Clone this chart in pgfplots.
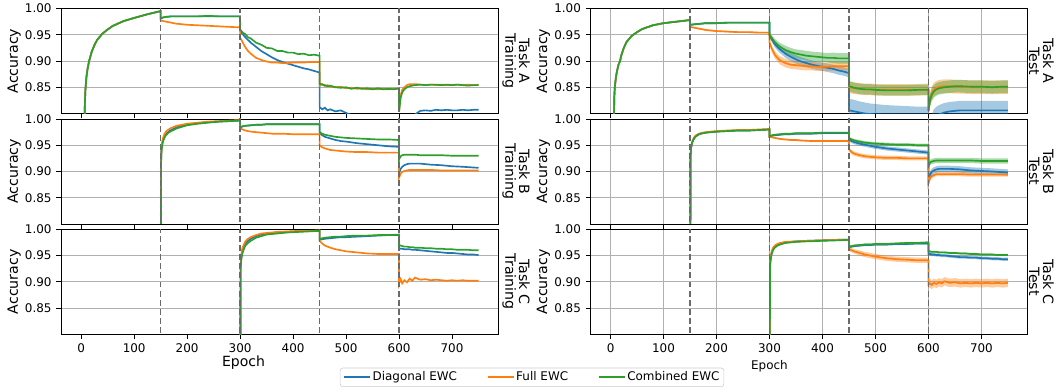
\documentclass[border=0pt]{standalone}
\usepackage{fontspec}
\setmainfont{DejaVu Sans}
\usepackage{pgfplots}
\pgfplotsset{compat=1.18}
\usepackage{pgfplotstable}
\definecolor{cB}{HTML}{1F77B4}
\definecolor{cO}{HTML}{FF7F0E}
\definecolor{cG}{HTML}{2CA02C}
\definecolor{gridc}{HTML}{B0B0B0}
\definecolor{legc}{HTML}{CCCCCC}
\definecolor{vlc}{HTML}{6A6A6A}

% ---------------- Task A ----------------
\pgfplotstableread{
x b o g
5 0.70 0.70 0.70
7 0.82 0.82 0.82
8 0.845 0.845 0.845
10 0.87 0.87 0.87
12 0.885 0.885 0.885
15 0.90 0.90 0.90
20 0.918 0.918 0.918
25 0.93 0.93 0.93
30 0.94 0.94 0.94
40 0.952 0.952 0.952
50 0.96 0.96 0.96
60 0.967 0.967 0.967
80 0.976 0.976 0.976
100 0.982 0.982 0.982
125 0.989 0.989 0.989
150 0.995 0.995 0.995
150.01 0.981 0.977 0.981
155 0.983 0.976 0.983
160 0.984 0.975 0.984
170 0.985 0.973 0.985
180 0.985 0.971 0.985
200 0.985 0.969 0.985
220 0.985 0.968 0.985
240 0.985 0.967 0.986
260 0.985 0.966 0.985
280 0.985 0.965 0.985
300 0.985 0.964 0.985
300.01 0.958 0.945 0.960
305 0.951 0.935 0.954
310 0.945 0.926 0.951
315 0.940 0.919 0.945
320 0.935 0.914 0.943
330 0.927 0.906 0.935
340 0.919 0.902 0.931
350 0.913 0.899 0.925
360 0.907 0.897 0.924
370 0.902 0.897 0.919
380 0.898 0.896 0.919
390 0.895 0.896 0.916
400 0.892 0.897 0.916
410 0.889 0.897 0.913
420 0.886 0.897 0.914
430 0.884 0.898 0.911
440 0.881 0.898 0.912
450 0.878 0.898 0.910
450.01 0.812 0.853 0.857
455 0.808 0.856 0.855
460 0.811 0.852 0.854
465 0.806 0.854 0.852
470 0.808 0.851 0.853
480 0.804 0.850 0.850
490 0.806 0.851 0.849
500 0.801 0.848 0.850
510 0.797 0.849 0.847
520 0.790 0.847 0.849
530 0.790 0.848 0.847
540 0.790 0.846 0.848
550 0.790 0.847 0.846
560 0.790 0.846 0.848
570 0.790 0.847 0.846
580 0.790 0.846 0.847
590 0.790 0.847 0.846
600 0.790 0.847 0.848
600.01 0.700 0.805 0.803
603 0.740 0.835 0.830
606 0.760 0.845 0.840
610 0.770 0.850 0.846
615 0.780 0.854 0.850
620 0.790 0.856 0.852
630 0.798 0.856 0.854
640 0.805 0.855 0.855
650 0.806 0.854 0.854
660 0.805 0.855 0.855
670 0.807 0.854 0.855
680 0.806 0.855 0.854
690 0.807 0.854 0.855
700 0.806 0.854 0.854
710 0.806 0.855 0.855
720 0.807 0.854 0.854
730 0.806 0.855 0.853
740 0.807 0.854 0.854
750 0.807 0.855 0.854
}\tAtr

\pgfplotstableread{
x b be o oe g ge
5 0.70 0.001 0.70 0.001 0.70 0.001
7 0.83 0.001 0.83 0.001 0.83 0.001
8 0.85 0.001 0.85 0.001 0.85 0.001
10 0.868 0.001 0.868 0.001 0.868 0.001
12 0.880 0.001 0.880 0.001 0.880 0.001
15 0.893 0.001 0.893 0.001 0.893 0.001
18 0.900 0.001 0.900 0.001 0.900 0.001
20 0.910 0.001 0.910 0.001 0.910 0.001
25 0.925 0.001 0.925 0.001 0.925 0.001
30 0.936 0.001 0.936 0.001 0.936 0.001
40 0.948 0.001 0.948 0.001 0.948 0.001
50 0.955 0.001 0.955 0.001 0.955 0.001
60 0.961 0.001 0.961 0.001 0.961 0.001
80 0.968 0.001 0.968 0.001 0.968 0.001
100 0.972 0.001 0.972 0.001 0.972 0.001
125 0.975 0.001 0.975 0.001 0.975 0.001
150 0.978 0.001 0.978 0.001 0.978 0.001
150.01 0.969 0.001 0.965 0.0015 0.969 0.001
160 0.970 0.001 0.963 0.0015 0.970 0.001
170 0.971 0.001 0.961 0.0015 0.971 0.001
180 0.972 0.001 0.959 0.0015 0.972 0.001
200 0.972 0.001 0.957 0.0015 0.972 0.001
220 0.973 0.001 0.956 0.0015 0.973 0.001
240 0.973 0.001 0.955 0.0015 0.973 0.001
260 0.973 0.001 0.955 0.0015 0.973 0.001
280 0.973 0.001 0.954 0.0015 0.973 0.001
300 0.973 0.001 0.954 0.0015 0.973 0.001
300.01 0.948 0.004 0.935 0.004 0.950 0.004
305 0.940 0.005 0.922 0.006 0.943 0.005
310 0.932 0.006 0.912 0.007 0.936 0.006
315 0.927 0.007 0.906 0.007 0.931 0.007
320 0.922 0.007 0.901 0.008 0.927 0.007
330 0.914 0.008 0.896 0.008 0.921 0.008
340 0.908 0.008 0.893 0.008 0.917 0.008
350 0.903 0.008 0.892 0.008 0.914 0.008
360 0.899 0.008 0.891 0.008 0.912 0.009
370 0.896 0.008 0.890 0.008 0.910 0.009
380 0.893 0.008 0.890 0.008 0.909 0.009
390 0.891 0.008 0.889 0.008 0.908 0.009
400 0.889 0.008 0.889 0.008 0.907 0.009
410 0.887 0.008 0.889 0.008 0.906 0.009
420 0.885 0.008 0.890 0.008 0.906 0.010
430 0.882 0.008 0.890 0.008 0.905 0.010
440 0.880 0.008 0.890 0.008 0.905 0.010
450 0.877 0.008 0.890 0.008 0.905 0.010
450.01 0.806 0.022 0.850 0.011 0.852 0.010
460 0.804 0.022 0.848 0.011 0.849 0.010
470 0.802 0.021 0.847 0.011 0.847 0.010
480 0.800 0.021 0.846 0.011 0.846 0.010
490 0.799 0.020 0.846 0.011 0.846 0.010
500 0.798 0.020 0.845 0.011 0.845 0.010
520 0.797 0.019 0.845 0.011 0.844 0.010
540 0.796 0.019 0.845 0.011 0.844 0.010
560 0.796 0.018 0.845 0.011 0.844 0.010
580 0.795 0.018 0.845 0.011 0.845 0.010
600 0.795 0.018 0.846 0.011 0.845 0.010
600.01 0.750 0.015 0.805 0.013 0.805 0.012
603 0.770 0.016 0.828 0.013 0.825 0.012
606 0.780 0.017 0.838 0.013 0.835 0.012
610 0.790 0.018 0.845 0.013 0.842 0.012
615 0.795 0.018 0.849 0.013 0.846 0.012
620 0.798 0.018 0.851 0.013 0.848 0.012
630 0.802 0.018 0.852 0.013 0.850 0.012
640 0.804 0.018 0.852 0.013 0.851 0.012
650 0.805 0.018 0.851 0.013 0.852 0.012
660 0.806 0.018 0.851 0.013 0.852 0.012
680 0.806 0.018 0.850 0.013 0.851 0.012
700 0.806 0.018 0.850 0.013 0.851 0.012
720 0.806 0.018 0.850 0.013 0.850 0.012
740 0.806 0.018 0.850 0.013 0.851 0.012
750 0.806 0.018 0.850 0.013 0.851 0.012
}\tAte

% ---------------- Task B ----------------
\pgfplotstableread{
x b o g
150 0.50 0.50 0.50
151 0.930 0.935 0.928
152 0.945 0.950 0.943
154 0.958 0.962 0.956
157 0.966 0.971 0.964
160 0.971 0.976 0.969
165 0.976 0.980 0.974
170 0.979 0.983 0.977
180 0.984 0.987 0.982
190 0.987 0.989 0.985
200 0.989 0.991 0.988
220 0.992 0.993 0.991
240 0.994 0.995 0.993
260 0.995 0.996 0.995
280 0.996 0.997 0.996
300 0.997 0.998 0.997
300.01 0.984 0.982 0.984
305 0.986 0.980 0.986
310 0.987 0.978 0.987
320 0.988 0.976 0.988
330 0.989 0.975 0.989
340 0.989 0.974 0.989
350 0.990 0.973 0.990
360 0.990 0.972 0.990
380 0.990 0.972 0.990
400 0.990 0.971 0.990
420 0.990 0.971 0.990
440 0.990 0.971 0.990
450 0.990 0.971 0.990
450.01 0.973 0.950 0.975
455 0.969 0.946 0.972
460 0.966 0.944 0.970
470 0.963 0.941 0.968
480 0.960 0.940 0.966
490 0.958 0.939 0.965
500 0.957 0.938 0.964
520 0.954 0.937 0.963
540 0.952 0.937 0.962
560 0.950 0.936 0.961
580 0.948 0.936 0.961
600 0.947 0.936 0.960
600.01 0.897 0.888 0.923
603 0.905 0.896 0.929
606 0.909 0.899 0.931
610 0.912 0.901 0.932
615 0.914 0.902 0.932
620 0.915 0.903 0.932
630 0.915 0.903 0.932
640 0.915 0.903 0.931
660 0.913 0.903 0.931
680 0.912 0.902 0.931
700 0.910 0.902 0.930
720 0.909 0.902 0.930
750 0.907 0.902 0.930
}\tBtr

\pgfplotstableread{
x b be o oe g ge
150 0.50 0.001 0.50 0.001 0.50 0.001
151 0.930 0.002 0.932 0.002 0.930 0.002
152 0.945 0.002 0.947 0.002 0.945 0.002
154 0.955 0.002 0.957 0.002 0.955 0.002
157 0.962 0.002 0.964 0.002 0.962 0.002
160 0.966 0.002 0.968 0.002 0.966 0.002
165 0.970 0.002 0.971 0.002 0.970 0.002
170 0.972 0.001 0.973 0.001 0.972 0.001
180 0.974 0.001 0.975 0.001 0.974 0.001
190 0.975 0.001 0.976 0.001 0.975 0.001
200 0.976 0.001 0.977 0.001 0.976 0.001
220 0.977 0.001 0.978 0.001 0.977 0.001
240 0.978 0.001 0.979 0.001 0.978 0.001
260 0.978 0.001 0.979 0.001 0.978 0.001
280 0.979 0.001 0.980 0.001 0.979 0.001
300 0.980 0.001 0.981 0.001 0.980 0.001
300.01 0.966 0.0015 0.966 0.0015 0.967 0.0015
305 0.968 0.0015 0.965 0.0015 0.969 0.0015
310 0.969 0.0015 0.964 0.0015 0.970 0.0015
320 0.970 0.0015 0.962 0.0015 0.971 0.0015
330 0.971 0.0015 0.961 0.0015 0.972 0.0015
340 0.971 0.0015 0.960 0.0015 0.972 0.0015
350 0.972 0.0015 0.960 0.0015 0.973 0.0015
360 0.972 0.0015 0.959 0.0015 0.973 0.0015
380 0.972 0.0015 0.958 0.0015 0.973 0.0015
400 0.973 0.0015 0.958 0.0015 0.974 0.0015
420 0.973 0.0015 0.958 0.0015 0.974 0.0015
440 0.973 0.0015 0.958 0.0015 0.974 0.0015
450 0.973 0.0015 0.958 0.0015 0.974 0.0015
450.01 0.961 0.004 0.942 0.004 0.963 0.003
455 0.958 0.004 0.937 0.004 0.961 0.003
460 0.956 0.004 0.934 0.004 0.959 0.003
470 0.953 0.004 0.931 0.004 0.957 0.003
480 0.951 0.004 0.929 0.004 0.955 0.003
490 0.949 0.004 0.928 0.004 0.954 0.003
500 0.947 0.004 0.927 0.004 0.953 0.003
520 0.944 0.004 0.926 0.004 0.952 0.003
540 0.942 0.004 0.926 0.004 0.951 0.003
560 0.940 0.004 0.925 0.004 0.951 0.003
580 0.938 0.004 0.925 0.004 0.950 0.003
600 0.936 0.004 0.925 0.004 0.950 0.003
600.01 0.884 0.006 0.877 0.004 0.910 0.005
603 0.894 0.006 0.887 0.004 0.917 0.005
606 0.899 0.006 0.891 0.004 0.919 0.005
610 0.902 0.006 0.893 0.004 0.920 0.005
615 0.904 0.006 0.895 0.004 0.921 0.005
620 0.905 0.006 0.895 0.004 0.921 0.005
630 0.905 0.006 0.895 0.004 0.921 0.005
640 0.905 0.006 0.895 0.004 0.921 0.005
660 0.904 0.006 0.895 0.004 0.921 0.005
680 0.902 0.006 0.894 0.004 0.921 0.005
700 0.901 0.006 0.894 0.004 0.920 0.005
720 0.900 0.006 0.894 0.004 0.920 0.005
750 0.898 0.006 0.894 0.004 0.920 0.005
}\tBte

% ---------------- Task C ----------------
\pgfplotstableread{
x b o g
300 0.50 0.50 0.50
301 0.930 0.935 0.925
302 0.945 0.950 0.940
304 0.958 0.963 0.953
307 0.967 0.971 0.962
310 0.973 0.977 0.969
315 0.978 0.982 0.974
320 0.982 0.985 0.978
330 0.987 0.989 0.984
340 0.990 0.992 0.987
350 0.992 0.993 0.990
370 0.994 0.995 0.992
390 0.995 0.996 0.994
410 0.996 0.997 0.995
430 0.997 0.997 0.996
450 0.997 0.998 0.997
450.01 0.980 0.978 0.981
455 0.981 0.973 0.983
460 0.982 0.969 0.984
470 0.983 0.965 0.985
480 0.984 0.962 0.986
490 0.985 0.960 0.986
500 0.985 0.958 0.987
520 0.986 0.956 0.988
540 0.987 0.954 0.988
560 0.988 0.953 0.989
580 0.989 0.953 0.989
600 0.989 0.953 0.990
600.01 0.964 0.896 0.970
603 0.963 0.905 0.969
606 0.963 0.897 0.968
610 0.962 0.903 0.967
615 0.962 0.899 0.967
620 0.962 0.906 0.966
625 0.961 0.902 0.966
630 0.961 0.908 0.965
640 0.960 0.904 0.965
650 0.959 0.905 0.964
660 0.958 0.903 0.964
670 0.957 0.904 0.963
680 0.956 0.903 0.963
690 0.955 0.902 0.962
700 0.955 0.903 0.962
710 0.954 0.902 0.961
720 0.953 0.903 0.961
730 0.952 0.902 0.961
740 0.952 0.902 0.960
750 0.951 0.902 0.960
}\tCtr

\pgfplotstableread{
x b be o oe g ge
300 0.50 0.001 0.50 0.001 0.50 0.001
301 0.930 0.002 0.933 0.002 0.928 0.002
302 0.943 0.002 0.946 0.002 0.941 0.002
304 0.955 0.002 0.958 0.002 0.953 0.002
307 0.963 0.002 0.965 0.002 0.961 0.002
310 0.967 0.001 0.969 0.001 0.965 0.001
315 0.971 0.001 0.972 0.001 0.969 0.001
320 0.973 0.001 0.974 0.001 0.971 0.001
330 0.975 0.001 0.976 0.001 0.974 0.001
350 0.977 0.001 0.977 0.001 0.976 0.001
370 0.978 0.001 0.978 0.001 0.977 0.001
400 0.979 0.001 0.979 0.001 0.978 0.001
430 0.980 0.001 0.980 0.001 0.979 0.001
450 0.980 0.001 0.980 0.001 0.980 0.001
450.01 0.966 0.002 0.963 0.004 0.966 0.002
455 0.967 0.002 0.960 0.004 0.968 0.002
460 0.968 0.002 0.958 0.004 0.969 0.002
470 0.969 0.002 0.955 0.005 0.970 0.002
480 0.970 0.002 0.952 0.005 0.971 0.002
490 0.970 0.002 0.950 0.005 0.971 0.002
500 0.971 0.002 0.948 0.005 0.972 0.002
520 0.971 0.002 0.945 0.005 0.972 0.002
540 0.972 0.002 0.943 0.005 0.973 0.002
560 0.972 0.002 0.942 0.005 0.974 0.002
580 0.973 0.002 0.941 0.005 0.974 0.002
600 0.973 0.002 0.941 0.005 0.975 0.002
600.01 0.953 0.003 0.895 0.008 0.958 0.002
603 0.953 0.003 0.897 0.008 0.958 0.002
606 0.952 0.003 0.894 0.008 0.957 0.002
610 0.952 0.003 0.898 0.008 0.957 0.002
615 0.951 0.003 0.896 0.008 0.957 0.002
620 0.951 0.003 0.899 0.008 0.956 0.002
625 0.950 0.003 0.897 0.008 0.956 0.002
630 0.950 0.003 0.901 0.008 0.956 0.002
640 0.949 0.003 0.898 0.008 0.955 0.002
650 0.948 0.003 0.899 0.008 0.955 0.002
660 0.947 0.003 0.897 0.008 0.954 0.002
670 0.947 0.003 0.898 0.008 0.954 0.002
680 0.946 0.003 0.897 0.008 0.953 0.002
690 0.946 0.003 0.898 0.008 0.953 0.002
700 0.945 0.003 0.897 0.008 0.952 0.002
710 0.945 0.003 0.898 0.008 0.952 0.002
720 0.944 0.003 0.897 0.008 0.952 0.002
730 0.944 0.003 0.898 0.008 0.951 0.002
740 0.943 0.003 0.897 0.008 0.951 0.002
750 0.943 0.003 0.898 0.008 0.951 0.002
}\tCte

\newcommand{\vlines}{%
  \addplot[vlc, line width=1.0pt, dash pattern=on 4.3pt off 2.2pt, forget plot] coordinates {(150,0.7) (150,1.1)};
  \addplot[vlc, line width=1.0pt, dash pattern=on 4.3pt off 2.2pt, forget plot] coordinates {(300,0.7) (300,1.1)};
  \addplot[vlc, line width=1.0pt, dash pattern=on 4.3pt off 2.2pt, forget plot] coordinates {(450,0.7) (450,1.1)};
  \addplot[vlc, line width=1.0pt, dash pattern=on 4.3pt off 2.2pt, forget plot] coordinates {(600,0.7) (600,1.1)};
}
\newcommand{\curves}[1]{%
  \addplot[cB, line width=1.2pt] table[x=x, y=b] {#1};
  \addplot[cO, line width=1.2pt] table[x=x, y=o] {#1};
  \addplot[cG, line width=1.2pt] table[x=x, y=g] {#1};
}
% band = mean +- spread, drawn with stacked plots (lower edge, width, then reset)
\newcommand{\band}[4]{%
  \addplot[draw=none, stack plots=y, forget plot] table[x=x, y expr=\thisrow{#2}-\thisrow{#3}] {#1};
  \addplot[draw=none, fill=#4, fill opacity=0.4, stack plots=y, forget plot] table[x=x, y expr=2*\thisrow{#3}] {#1} \closedcycle;
  \addplot[draw=none, stack plots=y, forget plot] table[x=x, y expr=-\thisrow{#2}-\thisrow{#3}] {#1};
}
\newcommand{\bands}[1]{\band{#1}{b}{be}{cB}\band{#1}{o}{oe}{cO}\band{#1}{g}{ge}{cG}}

\pgfplotsset{
  base/.style={
    scale only axis, width=314.7pt, height=75.6pt, anchor=south west,
    xmin=-37.5, xmax=787.5, ymin=0.8, ymax=1.0,
    xtick={0,100,...,700}, ytick={0.85,0.9,0.95,1.0},
    yticklabel style={/pgf/number format/.cd, fixed, fixed zerofill, precision=2},
    /pgf/number format/assume math mode=true,
    tick label style={font=\fontsize{8.6}{10}\selectfont},
    tick align=outside, xtick pos=left, ytick pos=left,
    major tick length=3.5pt, tick style={black, line width=0.6pt},
    axis line style={line width=0.6pt},
    grid style={gridc, line width=0.6pt},
    ymajorgrids,
    ylabel={Accuracy},
    ylabel style={at={(rel axis cs:-0.108,0.5)}, anchor=center, font=\fontsize{10.2}{12}\selectfont},
    clip=true,
  },
  leftcol/.style={base},
  rightcol/.style={base, xmajorgrids},
  nolab/.style={xticklabels={}},
}
\newcommand{\rowlab}[2]{\node[rotate=-90, align=center, font=\fontsize{10.2}{10}\selectfont] at (#1,0.5) {#2};}

\begin{document}
\begin{tikzpicture}
\useasboundingbox (0,0) rectangle (763.2pt,280.8pt);

% Row 1
\begin{axis}[leftcol, nolab, at={(44.14pt,199.08pt)},
  extra description/.code={\rowlab{1.0407}{Task A\\Training}}]
\curves{\tAtr}
\vlines
\end{axis}
\begin{axis}[rightcol, nolab, at={(425.3pt,199.08pt)},
  extra description/.code={\rowlab{1.0311}{Task A\\Test}}]
\bands{\tAte}
\curves{\tAte}
\vlines
\end{axis}

% Row 2
\begin{axis}[leftcol, nolab, at={(44.14pt,119.52pt)},
  extra description/.code={\rowlab{1.0407}{Task B\\Training}}]
\curves{\tBtr}
\vlines
\end{axis}
\begin{axis}[rightcol, nolab, at={(425.3pt,119.52pt)},
  extra description/.code={\rowlab{1.0311}{Task B\\Test}}]
\bands{\tBte}
\curves{\tBte}
\vlines
\end{axis}

% Row 3
\begin{axis}[leftcol, at={(44.14pt,40.10pt)},
  xlabel={Epoch},
  xlabel style={at={(axis description cs:0.417,-0.270)}, anchor=center, font=\fontsize{10.1}{12}\selectfont},
  extra description/.code={\rowlab{1.0407}{Task C\\Training}},
  legend columns=3,
  legend style={at={(1.077,-0.41)}, anchor=center, draw=legc, rounded corners=2pt,
    font=\fontsize{8.6}{10}\selectfont, inner xsep=2pt, inner ysep=1.5pt,
    nodes={inner sep=1.2pt},
    /tikz/every even column/.append style={column sep=20pt}},
  legend cell align=left,
  legend image code/.code={\draw[#1, line width=1.5pt] (0pt,0pt) -- (18.7pt,0pt);}]
\curves{\tCtr}
\vlines
\legend{Diagonal EWC, Full EWC, Combined EWC}
\end{axis}
\begin{axis}[rightcol, at={(425.3pt,40.10pt)},
  xlabel={Epoch},
  xlabel style={at={(axis description cs:0.409,-0.302)}, anchor=center, font=\fontsize{8.6}{10}\selectfont},
  extra description/.code={\rowlab{1.0311}{Task C\\Test}}]
\bands{\tCte}
\curves{\tCte}
\vlines
\end{axis}
\end{tikzpicture}
\end{document}
